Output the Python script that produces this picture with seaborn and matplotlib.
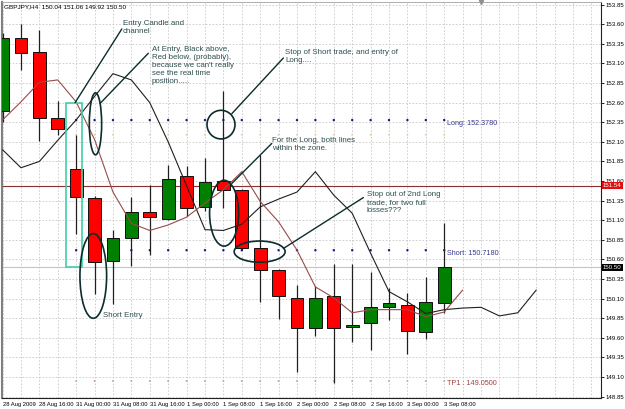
import numpy as np
import pandas as pd
import matplotlib
matplotlib.use("Agg")
import matplotlib.pyplot as plt
from matplotlib import font_manager
from matplotlib.patches import Ellipse, Rectangle
from matplotlib.transforms import blended_transform_factory
import seaborn as sns

# GBPJPY H4 candles
opens  = [152.49, 153.43, 153.24, 152.41, 151.76, 151.39, 150.58, 150.87, 151.20, 151.12,
          151.66, 151.27, 151.60, 151.49, 150.74, 150.47, 150.11, 149.72, 150.13, 149.74,
          149.79, 150.00, 150.02, 149.68, 150.04]
highs  = [153.49, 153.60, 153.53, 152.62, 152.19, 151.41, 150.98, 151.40, 151.55, 151.80,
          151.79, 151.89, 152.75, 151.50, 151.93, 150.48, 150.27, 150.26, 150.54, 150.54,
          150.44, 150.24, 150.17, 150.38, 151.06]
lows   = [152.35, 153.02, 152.11, 152.19, 150.93, 150.16, 150.03, 150.52, 150.66, 151.10,
          151.16, 151.22, 151.26, 150.72, 150.06, 149.84, 149.16, 149.62, 149.03, 149.55,
          149.45, 149.83, 149.40, 149.59, 149.92]
closes = [153.43, 153.23, 152.41, 152.26, 151.40, 150.57, 150.88, 151.20, 151.14, 151.63,
          151.26, 151.59, 151.48, 150.74, 150.47, 150.14, 149.73, 150.11, 149.72, 149.77,
          149.99, 150.04, 149.69, 150.06, 150.50]

# indicator lines (black one is shifted into the future)
black_line = [152.00, 151.77, 151.85, 152.12, 152.38, 152.68, 152.97, 152.89, 152.60, 152.10,
              151.54, 150.98, 150.97, 151.05, 151.27, 151.37, 151.46, 151.72, 151.42, 151.19,
              150.68, 150.19, 150.06, 149.91, 149.96, 149.98, 149.99, 149.88, 149.92, 150.21]
red_line = [152.38, 152.61, 152.86, 152.89, 152.61, 152.13, 151.46, 151.06, 150.97, 151.04,
            151.14, 151.32, 151.49, 151.72, 151.34, 151.08, 150.72, 150.25, 150.11, 149.92,
            149.96, 149.96, 149.96, 149.87, 149.93, 150.21]

long_level = 152.3780
short_level = 150.7180
tp1_level = 149.0500
bid_level = 151.54
last_close = 150.50

x_labels = ["28 Aug 2009", "28 Aug 16:00", "31 Aug 00:00", "31 Aug 08:00", "31 Aug 16:00",
            "1 Sep 00:00", "1 Sep 08:00", "1 Sep 16:00", "2 Sep 00:00", "2 Sep 08:00",
            "2 Sep 16:00", "3 Sep 00:00", "3 Sep 08:00"]
y_labels = ["148.85", "149.10", "149.35", "149.60", "149.85", "150.10", "150.35", "150.60",
            "150.85", "151.10", "151.35", "151.60", "151.85", "152.10", "152.35", "152.60",
            "152.85", "153.10", "153.35", "153.60", "153.85"]

sns.set_style("white")
names = {f.name for f in font_manager.fontManager.ttflist}
note_font = "Liberation Sans Narrow" if "Liberation Sans Narrow" in names else "Liberation Sans"
plt.rcParams["font.family"] = ["Liberation Sans", "DejaVu Sans"]

fig = plt.figure(figsize=(6.25, 4.09), dpi=100)
ax = fig.add_axes([2 / 625, 11 / 409, 599 / 625, 396 / 409])
ax.set_xlim(-0.03, 32.52)
ax.set_ylim(148.833, 153.884)

# grid
ax.set_xticks(range(0, 25, 2))
ax.set_xticks(range(0, 33), minor=True)
ax.set_yticks([float(v) for v in y_labels])
ax.grid(True, which="both", axis="x", color="#c8c8c8", lw=0.6, linestyle=(0, (2, 2)))
ax.grid(True, which="major", axis="y", color="#c8c8c8", lw=0.6, linestyle=(0, (2, 2)))
ax.set_axisbelow(True)

# horizontal price lines
ax.axhline(bid_level, color="#8b3030", lw=0.8, zorder=1)
ax.axhline(last_close, color="#c4c4c4", lw=0.8, zorder=1)

# candles
bars = np.arange(len(opens))
o, h, l, c = map(np.array, (opens, highs, lows, closes))
up = c >= o
ax.vlines(bars, l, h, color="#202020", lw=0.9, zorder=3)
ax.bar(bars, np.maximum(np.abs(c - o), 0.02), bottom=np.minimum(o, c), width=0.7,
       color=np.where(up, "#008000", "#ff0000"), edgecolor="#101010", lw=0.7, zorder=4)

# indicator lines
df_black = pd.DataFrame({"bar": np.arange(len(black_line)), "price": black_line})
df_red = pd.DataFrame({"bar": np.arange(len(red_line)), "price": red_line})
sns.lineplot(data=df_black, x="bar", y="price", color="#202020", lw=0.8, ax=ax, zorder=5)
sns.lineplot(data=df_red, x="bar", y="price", color="#9a4a4a", lw=0.8, ax=ax, zorder=5)

# trade level dots
lvl_bars = np.arange(4, 25)
sns.scatterplot(x=lvl_bars, y=[long_level] * len(lvl_bars), s=3, color="#1a1a80",
                edgecolor="none", ax=ax, zorder=2)
sns.scatterplot(x=lvl_bars, y=[short_level] * len(lvl_bars), s=3, color="#1a1a80",
                edgecolor="none", ax=ax, zorder=2)
sns.scatterplot(x=lvl_bars, y=[152.19] * len(lvl_bars), s=2, color="#e8d49a",
                edgecolor="none", ax=ax, zorder=2)
sns.scatterplot(x=lvl_bars, y=[tp1_level] * len(lvl_bars), s=2, color="#d0a0a0",
                edgecolor="none", ax=ax, zorder=2)
ax.text(24.15, 152.33, "Long: %.4f" % long_level, fontsize=5.2, color="#3a3a90", va="center")
ax.text(24.15, 150.67, "Short: %.4f" % short_level, fontsize=5.2, color="#3a3a90", va="center")
ax.text(24.15, 149.02, "TP1 : %.4f" % tp1_level, fontsize=5.2, color="#a04040", va="center")

# entry candle channel box
ax.add_patch(Rectangle((3.45, 150.50), 0.89, 2.09, fill=False, ec="#40d0a8", lw=1.2, zorder=6))

# hand-drawn ellipses
ink = "#0c2c2c"
for (cx, cy, w, hgt) in [(5.05, 152.33, 0.67, 0.79), (11.87, 152.32, 1.52, 0.365),
                         (12.04, 151.19, 1.58, 0.84), (13.97, 150.70, 2.77, 0.27),
                         (4.93, 150.39, 1.45, 1.08)]:
    ax.add_patch(Ellipse((cx, cy), w, hgt, fill=False, ec=ink, lw=1.2, zorder=7))

for (x0, y0, x1, y1) in [(3.94, 152.60, 6.48, 153.54), (5.30, 152.59, 7.92, 153.23),
                         (12.46, 152.46, 15.26, 153.17), (12.46, 151.57, 14.63, 152.08),
                         (15.26, 150.74, 19.61, 151.39)]:
    ax.plot([x0, x1], [y0, y1], color=ink, lw=1.0, zorder=7)

notes = [
    (6.55, 153.66, "Entry Candle and\nchannel"),
    (8.11, 153.32, "At Entry, Black above,\nRed below, (probably),\nbecause we can't really\nsee the real time\nposition....."),
    (15.35, 153.28, "Stop of Short trade, and entry of\nLong...."),
    (14.63, 152.16, "For the Long, both lines\nwithin the zone."),
    (19.79, 151.47, "Stop out of 2nd Long\ntrade, for two full\nlosses???"),
]
for (tx, ty, s) in notes:
    ax.text(tx, ty, s, fontsize=5.7, color="#2f4f4f", va="top", ha="left",
            family=[note_font, "DejaVu Sans"], linespacing=1.2, zorder=8)
ax.text(5.48, 149.88, "Short Entry", fontsize=5.7, color="#2f4f4f", va="center",
        family=[note_font, "DejaVu Sans"], zorder=8)

# axes styling
ax.set_xticklabels(x_labels, ha="left")
ax.set_yticklabels(y_labels)
ax.yaxis.tick_right()
ax.tick_params(axis="both", which="major", length=2, width=0.6, pad=1.2,
               colors="#000000", direction="out")
ax.tick_params(axis="x", which="major", labelsize=4.2)
ax.tick_params(axis="y", which="major", labelsize=4.4)
ax.tick_params(axis="x", which="minor", length=0)
ax.set_xlabel("")
ax.set_ylabel("")
for side in ["right", "bottom"]:
    ax.spines[side].set_color("#202020")
    ax.spines[side].set_linewidth(0.8)
ax.spines["left"].set_color("#808080")
ax.spines["left"].set_linewidth(1.5)
ax.spines["top"].set_color("#a0a0a0")
ax.spines["top"].set_linewidth(0.6)

# price boxes on the right scale
tr = blended_transform_factory(ax.transAxes, ax.transData)
ax.text(1.003, bid_level, "%.2f" % bid_level, transform=tr, fontsize=4.4, color="white",
        va="center", ha="left", clip_on=False, zorder=10,
        bbox=dict(boxstyle="square,pad=0.2", fc="#e01010", ec="none"))
ax.text(1.003, last_close, "%.2f" % last_close, transform=tr, fontsize=4.4, color="white",
        va="center", ha="left", clip_on=False, zorder=10,
        bbox=dict(boxstyle="square,pad=0.2", fc="#000000", ec="none"))

fig.text(4 / 625, 1 - 7 / 409, "GBPJPY,H4  150.04 151.06 149.92 150.50", fontsize=4.6,
         color="#000000", va="center", ha="left")
ax.plot(26.0, 153.884, marker="v", color="#909090", ms=3, clip_on=False, zorder=9)

fig.savefig("out.png", dpi=100)
